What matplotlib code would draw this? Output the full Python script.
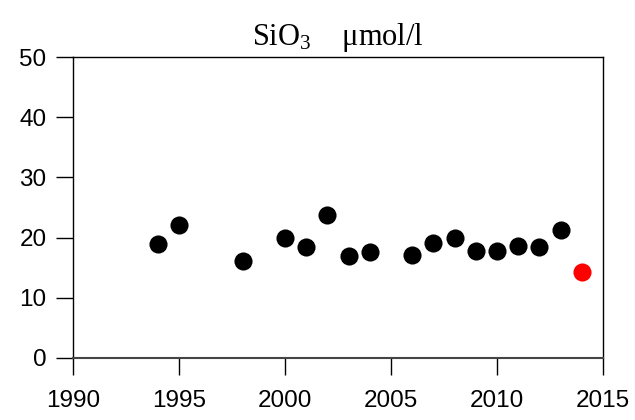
import matplotlib
matplotlib.use("Agg")
import matplotlib.pyplot as plt

years = [1994, 1995, 1998, 2000, 2001, 2002, 2003, 2004, 2006, 2007, 2008, 2009, 2010, 2011, 2012, 2013]
values = [18.9, 22.1, 16.1, 19.9, 18.4, 23.8, 16.9, 17.6, 17.1, 19.1, 19.9, 17.8, 17.8, 18.6, 18.4, 21.3]
latest_year = [2014]
latest_value = [14.3]
xticks = [1990, 1995, 2000, 2005, 2010, 2015]
yticks = [0, 10, 20, 30, 40, 50]

plt.rcParams['mathtext.fontset'] = 'custom'
plt.rcParams['mathtext.rm'] = 'Liberation Serif'
plt.rcParams['mathtext.it'] = 'Liberation Serif:italic'

fig = plt.figure(figsize=(6.35, 4.2), dpi=100)
ax = fig.add_axes([73/635, 1-358/420, 530/635, 301/420])
ax.scatter(years, values, s=170, color='black', zorder=3, clip_on=False, linewidths=0)
ax.scatter(latest_year, latest_value, s=170, color='#ff0000', zorder=3, clip_on=False, linewidths=0)
ax.set_xlim(1990, 2015)
ax.set_ylim(0, 50)
ax.set_xticks(xticks)
ax.set_yticks(yticks)
ax.tick_params(direction='out', length=12, width=1, labelsize=17.5)
ax.tick_params(axis='x', pad=11)
ax.tick_params(axis='y', pad=7)
for lab in ax.get_xticklabels() + ax.get_yticklabels():
    lab.set_family('Liberation Sans')
for s in ax.spines.values():
    s.set_linewidth(1)
ax.spines['bottom'].set_color('#444444')
ax.spines['bottom'].set_linewidth(1.5)
ax.set_title(r'SiO$_3$    μmol/l', family='Liberation Serif', fontsize=22, pad=9)
fig.savefig('out.png', dpi=100)
